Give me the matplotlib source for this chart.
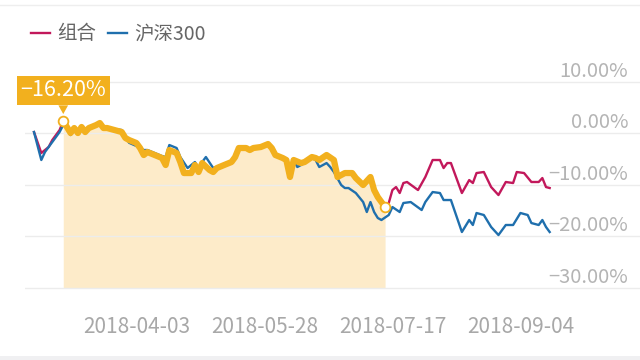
import matplotlib.pyplot as plt
import matplotlib.transforms as mtransforms
from matplotlib.lines import Line2D
from matplotlib.patches import Rectangle

# trading-day index (0 = first day shown) and cumulative return in %
combo_day = [0, 2, 4, 5, 6, 7, 8, 9, 10, 11, 12, 13, 14, 15, 17, 18, 19, 20, 22, 24,
             25, 26, 28, 29, 30, 31, 33, 35, 36, 37, 39, 40, 41, 43, 44, 45, 46, 48, 49, 50,
             52, 54, 55, 56, 58, 59, 60, 62, 64, 65, 66, 68, 69, 70, 71, 73, 74, 76, 77, 78,
             80, 82, 83, 85, 87, 88, 90, 92, 93, 94, 96, 97, 98, 99, 100, 101, 102, 105, 107, 109,
             111, 112, 113, 114, 117, 119, 120, 121, 123, 125, 127, 129, 131, 132, 134, 136, 138, 139, 140, 141]
combo_pct = [0.19, -3.88, -2.72, -1.36, -0.39, 0.58, 2.33, 1.17, 0.0, 0.97, 0.0, 1.17, 0.19, 0.97, 1.55, 1.94, 0.97, 0.97, 0.58, 0.19,
             -0.97, -1.36, -1.94, -2.91, -4.27, -3.69, -4.27, -4.85, -6.21, -3.30, -3.88, -5.63, -7.77, -7.77, -6.21, -7.57, -5.83, -7.18, -7.57, -6.80,
             -6.21, -5.63, -4.66, -2.91, -2.91, -3.30, -2.91, -2.72, -2.14, -2.91, -4.27, -4.85, -5.24, -8.54, -5.24, -5.83, -5.63, -4.66, -4.85, -5.24,
             -4.27, -5.24, -8.54, -7.77, -7.77, -8.74, -10.10, -8.54, -11.07, -12.43, -14.37, -13.59, -11.07, -10.49, -11.65, -9.71, -9.51, -11.07, -8.54, -5.24,
             -5.24, -6.80, -5.83, -5.83, -11.65, -9.13, -9.71, -7.77, -7.57, -10.49, -12.04, -9.51, -9.71, -7.57, -7.77, -9.51, -9.51, -8.74, -10.49, -10.68]

hs300_day = [0, 2, 3, 5, 6, 7, 8, 9, 10, 11, 12, 13, 14, 15, 17, 18, 19, 20, 22, 24,
             25, 26, 28, 29, 30, 31, 33, 35, 36, 37, 39, 40, 42, 44, 45, 46, 47, 49, 50, 52,
             54, 55, 56, 58, 59, 60, 62, 64, 65, 66, 68, 69, 70, 71, 72, 74, 76, 77, 78, 80,
             81, 82, 84, 85, 86, 88, 90, 91, 92, 93, 94, 95, 97, 98, 100, 101, 103, 106, 107, 109,
             111, 112, 114, 117, 119, 120, 121, 123, 125, 127, 129, 131, 133, 135, 136, 138, 139, 140, 141]
hs300_pct = [0.19, -5.24, -3.69, -1.75, -0.78, 0.2, 1.55, 0.97, -0.39, 0.58, -0.19, 0.97, 0.19, 0.97, 1.55, 2.14, 1.17, 0.97, 0.78, 0.58,
             -0.78, -1.9, -2.52, -2.91, -3.30, -3.30, -3.88, -4.47, -4.66, -2.33, -2.91, -4.66, -6.80, -5.63, -6.80, -5.63, -4.66, -6.80, -6.60, -6.02,
             -5.44, -4.47, -2.91, -2.72, -3.11, -2.72, -2.52, -2.14, -2.91, -4.08, -4.85, -5.24, -7.18, -5.24, -6.60, -5.83, -4.85, -5.24, -6.60, -5.83,
             -6.60, -7.57, -10.10, -10.68, -10.68, -11.65, -13.40, -15.34, -13.40, -15.34, -16.50, -16.89, -15.92, -14.37, -15.34, -13.59, -13.40, -14.95, -13.40, -11.46,
             -11.65, -13.01, -13.01, -19.22, -16.89, -17.86, -15.53, -15.92, -18.25, -19.81, -17.86, -17.86, -15.53, -15.92, -17.48, -17.86, -16.89, -18.25, -19.22]

tick_days = [28, 63, 98, 133]
tick_labels = ['2018-04-03', '2018-05-28', '2018-07-17', '2018-09-04']
y_ticks = [10, 0, -10, -20, -30]

peak_day, trough_day = 8, 96
drawdown = -16.20

c_combo = '#c2185b'
c_hs = '#1f6fad'
c_hi = '#f2b01e'
c_fill = '#fdebc9'

plt.rcParams['font.family'] = ['Noto Sans CJK SC', 'DejaVu Sans']

fig = plt.figure(figsize=(6.4, 3.6), dpi=100)
ax = fig.add_axes([25 / 640, 0.1942, 615 / 640, 0.6394])
ax.set_xlim(-2.46, 165.7)
ax.set_ylim(-30.5, 14.2)

l_combo, = ax.plot(combo_day, combo_pct, color=c_combo, lw=1.7, label='组合', zorder=2)
l_hs, = ax.plot(hs300_day, hs300_pct, color=c_hs, lw=1.7, label='沪深300', zorder=2.1)

seg = [(d, v) for d, v in zip(combo_day, combo_pct) if peak_day <= d <= trough_day]
seg_day = [d for d, v in seg]
seg_pct = [v for d, v in seg]
ax.fill_between(seg_day, seg_pct, -30, color=c_fill, lw=0, zorder=0.4)
ax.plot(seg_day, seg_pct, color=c_hi, lw=4.5, solid_joinstyle='round', zorder=3)
ax.plot([seg_day[0], seg_day[-1]], [seg_pct[0], seg_pct[-1]], 'o', ms=7,
        mfc='white', mec=c_hi, mew=1.3, zorder=4)

ax.annotate('−%.2f%%' % abs(drawdown), xy=(seg_day[0], seg_pct[0]), xytext=(0, 22),
            textcoords='offset points', ha='center', va='center', color='white',
            fontsize=15.5, fontweight='light',
            bbox=dict(boxstyle='square,pad=0.18', fc=c_hi, ec='none'),
            arrowprops=dict(arrowstyle='wedge,tail_width=0.45,shrink_factor=0.5', fc=c_hi, ec='none',
                            shrinkA=0, shrinkB=5), zorder=5)

# grid and axis labels
ax.set_yticks(y_ticks)
ax.yaxis.grid(True, color='#ececec', lw=1)
ax.set_axisbelow(True)
ax.tick_params(axis='y', length=0, labelleft=False)
trans = mtransforms.blended_transform_factory(ax.transAxes, ax.transData)
for v in y_ticks:
    lab = ('−%.2f%%' % abs(v)) if v < 0 else '%.2f%%' % v
    ax.annotate(lab, xy=(0.981, v), xycoords=trans, xytext=(0, 7.5), textcoords='offset points',
                ha='right', va='center', color='#b4b4b4', fontsize=14.5, fontweight='light')

ax.set_xticks(tick_days, tick_labels)
ax.tick_params(axis='x', length=0, pad=19, labelsize=15, labelcolor='#a8a8a8')
for lbl in ax.get_xticklabels():
    lbl.set_fontweight('light')
for spine in ax.spines.values():
    spine.set_visible(False)

fig.legend(handles=[l_combo, l_hs], loc='center left', bbox_to_anchor=(0.048, 0.906),
           frameon=False, ncol=2, fontsize=14, handlelength=1.0, handletextpad=0.35,
           columnspacing=0.6, borderpad=0, borderaxespad=0, labelcolor='#666666')

fig.add_artist(Line2D([0, 1], [0.986, 0.986], color='#eeeeee', lw=1))
fig.add_artist(Rectangle((0, 0), 1, 0.01, color='#f0f0f2', lw=0))

fig.savefig('out.png', dpi=100)
